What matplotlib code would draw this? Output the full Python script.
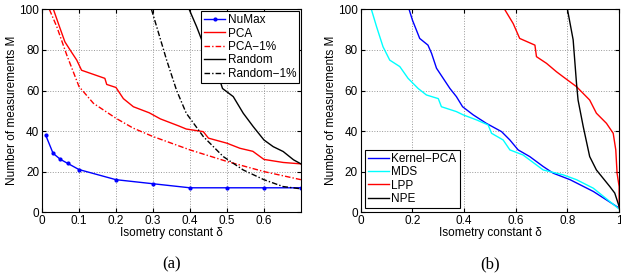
import matplotlib.pyplot as plt

# panel (a)
numax_d = [0.01, 0.03, 0.05, 0.07, 0.1, 0.2, 0.3, 0.4, 0.5, 0.6, 0.7]
numax_m = [38, 29, 26, 24, 21, 16, 14, 12, 12, 12, 12]

pca_d = [0.031, 0.049, 0.062, 0.076, 0.094, 0.107, 0.17, 0.175, 0.2, 0.22, 0.247,
         0.29, 0.32, 0.37, 0.39, 0.436, 0.45, 0.5, 0.535, 0.57, 0.6, 0.652, 0.7]
pca_m = [100, 90.6, 84, 80, 75, 70, 66, 63, 61.5, 56, 52,
         49, 46, 42.5, 41, 39.7, 36.5, 34, 31.5, 30, 26, 24.5, 23.8]

pca1_d = [0.02, 0.04, 0.067, 0.1, 0.139, 0.2, 0.247, 0.3, 0.4, 0.5, 0.6, 0.7]
pca1_m = [100, 91.5, 77.5, 62, 53.7, 46.3, 41.4, 37.3, 30.7, 25, 20, 16]

rand_d = [0.398, 0.418, 0.436, 0.472, 0.488, 0.517, 0.544, 0.571, 0.6, 0.625, 0.652, 0.68, 0.7]
rand_m = [100, 91.5, 83, 70, 61, 57, 48.8, 42.2, 35.6, 32.3, 29.9, 25.8, 23.8]

rand1_d = [0.296, 0.31, 0.337, 0.364, 0.39, 0.436, 0.49, 0.544, 0.6, 0.652, 0.7]
rand1_m = [100, 91.5, 75, 60, 48.8, 37.3, 27.4, 20.8, 16, 12.6, 11.5]

# panel (b)
kpca_d = [0.187, 0.2, 0.228, 0.26, 0.274, 0.293, 0.319, 0.345, 0.37, 0.394, 0.435,
          0.486, 0.545, 0.577, 0.609, 0.654, 0.706, 0.745, 0.81, 0.9, 1.0]
kpca_m = [100, 94.7, 85.7, 82.4, 78.3, 71, 66, 61, 57, 52, 48,
          43.8, 39.7, 35.6, 30.7, 27.4, 22.5, 19.2, 16, 10.2, 2]

mds_d = [0.041, 0.061, 0.086, 0.112, 0.151, 0.183, 0.222, 0.254, 0.3, 0.312, 0.37, 0.396,
         0.448, 0.493, 0.506, 0.551, 0.577, 0.628, 0.706, 0.783, 0.835, 0.9, 1.0]
mds_m = [100, 91.5, 81.6, 75, 71.8, 66, 61, 57.8, 56, 52, 49.6, 48,
         45.5, 43, 38.9, 35.6, 30.7, 28.2, 20.8, 18.4, 16, 11.8, 1.5]

lpp_d = [0.557, 0.59, 0.615, 0.674, 0.68, 0.719, 0.757, 0.783, 0.835, 0.886, 0.912,
         0.951, 0.977, 0.987, 0.992, 1.0, 1.0]
lpp_m = [100, 93, 85.7, 82.4, 76.7, 73.4, 69.3, 66.8, 61.9, 55.3, 48.8,
         43.8, 38.9, 30.7, 19.2, 12.6, 2]

npe_d = [0.8, 0.822, 0.835, 0.841, 0.861, 0.886, 0.912, 0.964, 0.983, 1.0]
npe_m = [100, 85, 63.5, 55.3, 42.2, 27.4, 20.8, 12.6, 9.4, 2.8]

plt.rcParams['font.family'] = ['Liberation Sans', 'DejaVu Sans']
plt.rcParams['font.size'] = 8.5

fig = plt.figure(figsize=(6.21, 2.78), dpi=100)
ax1 = fig.add_axes([0.0676, 0.237, 0.417, 0.729])
ax2 = fig.add_axes([0.581, 0.237, 0.416, 0.729])

ax1.plot(numax_d, numax_m, color='blue', marker='.', markersize=4, lw=1, label='NuMax')
ax1.plot(pca_d, pca_m, color='red', lw=1, label='PCA')
ax1.plot(pca1_d, pca1_m, color='red', lw=1, ls=(0, (4, 1.5, 1, 1.5)), label='PCA\u22121%')
ax1.plot(rand_d, rand_m, color='black', lw=1, label='Random')
ax1.plot(rand1_d, rand1_m, color='black', lw=1, ls=(0, (4, 1.5, 1, 1.5)), label='Random\u22121%')
ax1.set_xlim(0, 0.7)
ax1.set_xticks([0, 0.1, 0.2, 0.3, 0.4, 0.5, 0.6])
ax1.set_xticklabels(['0', '0.1', '0.2', '0.3', '0.4', '0.5', '0.6'])
leg1 = ax1.legend(loc='upper right', fancybox=False, edgecolor='black', framealpha=1,
                  borderaxespad=0.15, labelspacing=0.12, handlelength=1.8,
                  handletextpad=0.2, borderpad=0.25, fontsize=8.5)
leg1.get_frame().set_linewidth(0.8)

ax2.plot(kpca_d, kpca_m, color='blue', lw=1, label='Kernel\u2212PCA')
ax2.plot(mds_d, mds_m, color='cyan', lw=1, label='MDS')
ax2.plot(lpp_d, lpp_m, color='red', lw=1, label='LPP')
ax2.plot(npe_d, npe_m, color='black', lw=1, label='NPE')
ax2.set_xlim(0, 1)
ax2.set_xticks([0, 0.2, 0.4, 0.6, 0.8, 1])
ax2.set_xticklabels(['0', '0.2', '0.4', '0.6', '0.8', '1'])
leg2 = ax2.legend(loc='lower left', fancybox=False, edgecolor='black', framealpha=1,
                  borderaxespad=0.35, labelspacing=0.12, handlelength=1.8,
                  handletextpad=0.2, borderpad=0.25, fontsize=8.5)
leg2.get_frame().set_linewidth(0.8)

for ax, cap in [(ax1, '(a)'), (ax2, '(b)')]:
    ax.set_ylim(0, 100)
    ax.set_yticks([0, 20, 40, 60, 80, 100])
    ax.grid(True, ls=':', color='#999999', lw=0.7)
    ax.tick_params(direction='in', length=3, top=True, right=True, pad=2)
    ax.set_xlabel('Isometry constant \u03b4', labelpad=0)
    ax.set_ylabel('Number of measurements M', labelpad=1)
    for s in ax.spines.values():
        s.set_linewidth(0.8)
    ax.text(0.5, -0.26, cap, transform=ax.transAxes, ha='center', va='center',
            family='Liberation Serif', fontsize=12)

fig.savefig('out.png', dpi=100)
